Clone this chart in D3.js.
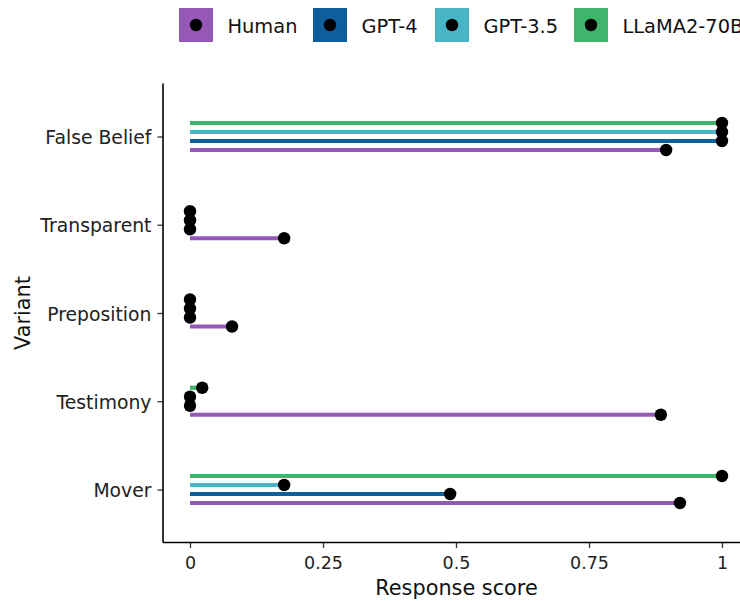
<!DOCTYPE html>
<html><head><meta charset="utf-8">
<script src="https://cdn.jsdelivr.net/npm/d3@7"></script>
<style>body{margin:0;background:#fff}svg{display:block;font-family:"DejaVu Sans",sans-serif}</style>
</head><body><svg id="c" width="740" height="601"></svg>
<script>
const variants = ["False Belief","Transparent","Preposition","Testimony","Mover"];
const series = ["Human","GPT-4","GPT-3.5","LLaMA2-70B"];
const colors = ["#9558b7","#0f5e9c","#47b5c5","#3eb56a"];
const human = [0.895,0.177,0.079,0.885,0.921];
const gpt4 = [1,0,0,0,0.489];
const gpt35 = [1,0,0,0,0.177];
const llama = [1,0,0,0.023,1];
const xTicks = [0,0.25,0.5,0.75,1];
const xTickLabels = ["0","0.25","0.5","0.75","1"];

const values = [human,gpt4,gpt35,llama];
const data = [];
variants.forEach((v,i)=>series.forEach((s,j)=>data.push({variant:v,series:s,value:values[j][i],color:colors[j]})));

const svg = d3.select("#c");
const x = d3.scaleLinear().domain([0,1]).range([190,722]);
const y = d3.scalePoint().domain(variants).range([136.5,489.5]);
const dodge = d3.scalePoint().domain(series.slice().reverse()).range([-13.5,13.5]);
const axisLeft = 163, axisBottom = 542.5, axisTop = 83.5;

svg.append("g").selectAll("line").data(data).join("line")
  .attr("x1",x(0)).attr("x2",d=>x(d.value))
  .attr("y1",d=>y(d.variant)+dodge(d.series)).attr("y2",d=>y(d.variant)+dodge(d.series))
  .attr("stroke",d=>d.color).attr("stroke-width",4.2);
svg.append("g").selectAll("circle").data(data).join("circle")
  .attr("cx",d=>x(d.value)).attr("cy",d=>y(d.variant)+dodge(d.series))
  .attr("r",6.2).attr("fill","#000");

const ax = svg.append("g").attr("transform",`translate(0,${axisBottom})`)
  .call(d3.axisBottom(x).tickValues(xTicks).tickFormat((d,i)=>xTickLabels[i]).tickSize(5.5).tickPadding(5));
ax.select(".domain").remove();
ax.append("line").attr("x1",axisLeft).attr("x2",740).attr("stroke","#000").attr("stroke-width",1.6);
ax.selectAll(".tick line").attr("stroke","#333").attr("stroke-width",1.3);
ax.selectAll("text").attr("font-size",17.5).attr("fill","#222").attr("font-family","DejaVu Sans").attr("dy",0).attr("y",26);

const ay = svg.append("g").attr("transform",`translate(${axisLeft},0)`)
  .call(d3.axisLeft(y).tickSize(5.5).tickPadding(6));
ay.select(".domain").remove();
ay.append("line").attr("y1",axisTop).attr("y2",axisBottom).attr("stroke","#000").attr("stroke-width",1.6);
ay.selectAll(".tick line").attr("stroke","#333").attr("stroke-width",1.3);
ay.selectAll("text").attr("font-size",18.8).attr("fill","#222").attr("font-family","DejaVu Sans").attr("dy",0).attr("y",7);

svg.append("text").attr("x",456.5).attr("y",595).attr("text-anchor","middle")
  .attr("font-size",20.8).attr("fill","#111").text("Response score");
svg.append("text").attr("transform","translate(30,313) rotate(-90)").attr("text-anchor","middle")
  .attr("font-size",20.8).attr("fill","#111").text("Variant");

const legX = [179,313,435,574];
const lg = svg.append("g");
series.forEach((s,i)=>{
  const g = lg.append("g").attr("transform",`translate(${legX[i]},8)`);
  g.append("rect").attr("width",34).attr("height",34).attr("fill",colors[i]);
  g.append("circle").attr("cx",17).attr("cy",17).attr("r",6.2).attr("fill","#000");
  g.append("text").attr("x",48.5).attr("y",24.5)
    .attr("font-size",19.4).attr("fill","#111").text(s);
});
</script></body></html>
